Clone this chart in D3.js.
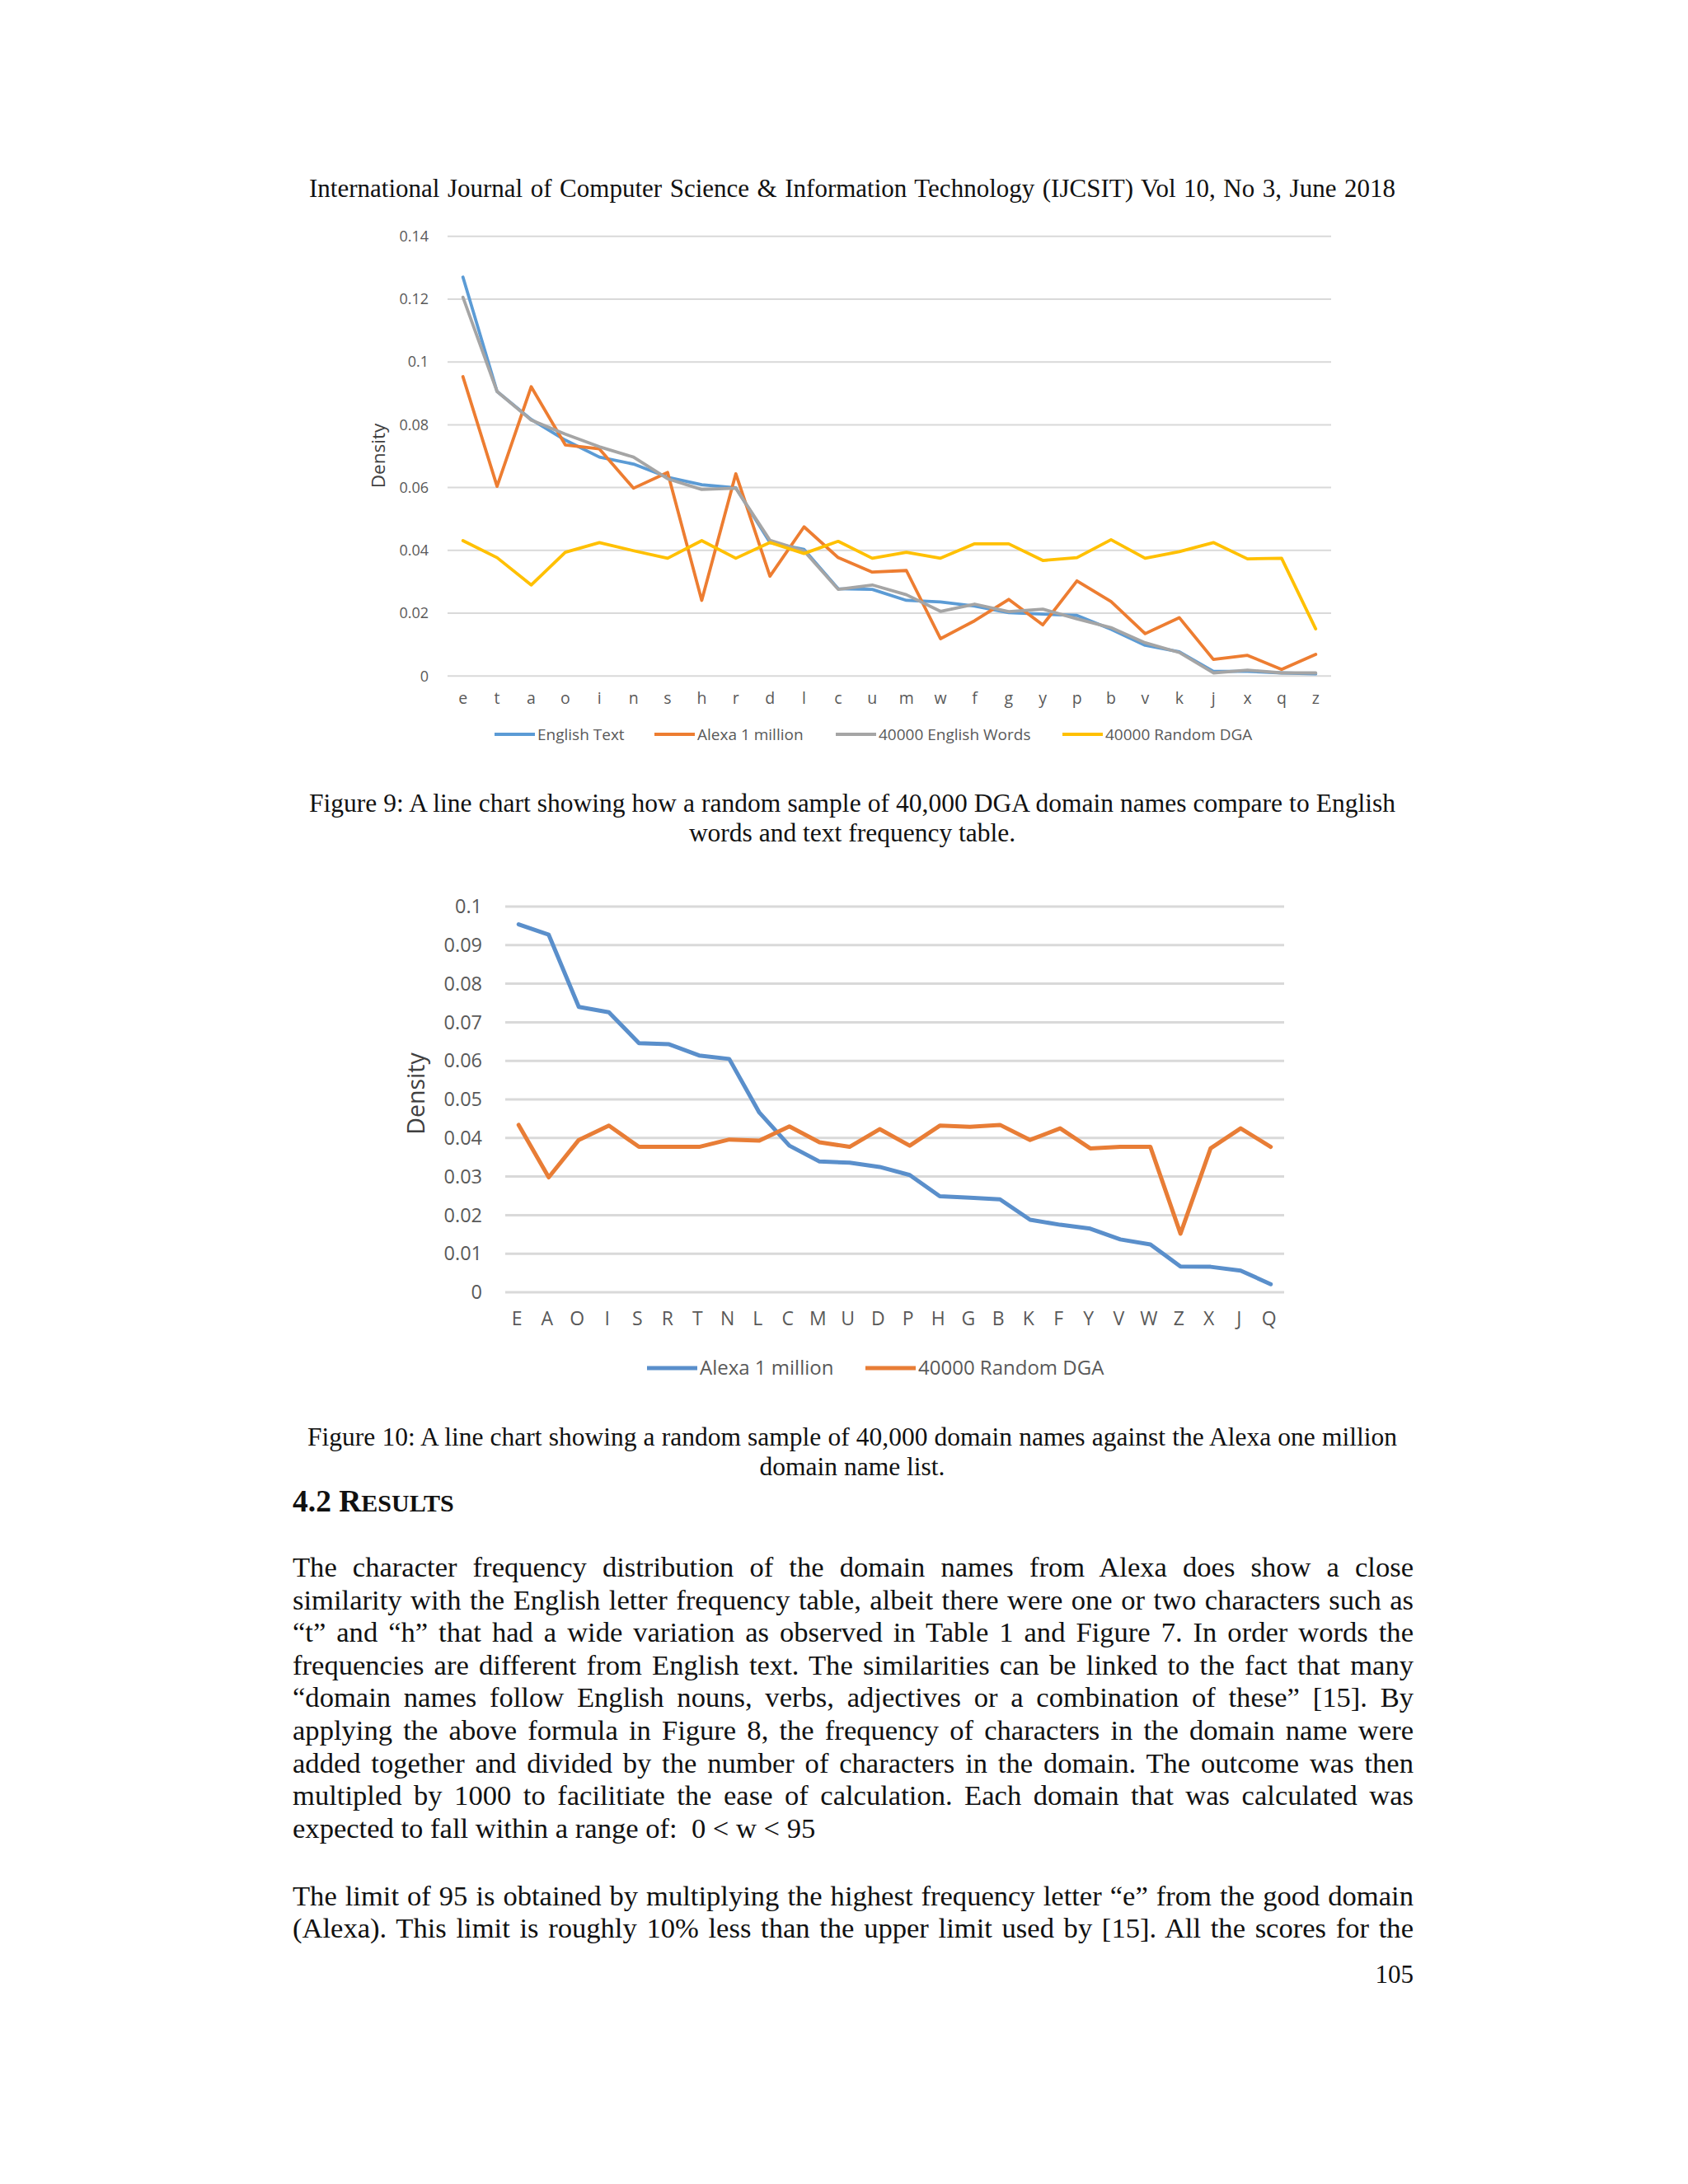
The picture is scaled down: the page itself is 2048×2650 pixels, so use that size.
<!DOCTYPE html>
<html>
<head>
<meta charset="utf-8">
<script src="https://cdn.jsdelivr.net/npm/d3@7"></script>
<style>
  html, body { margin: 0; padding: 0; background: #ffffff; }
  svg { display: block; }
  .serif { font-family: "Liberation Serif", "DejaVu Serif", serif; fill: #111; }
  .sans { font-family: "Open Sans", "Noto Sans", sans-serif; }
</style>
</head>
<body>
<svg id="page" width="2048" height="2650"></svg>
<script>
// ---------------- Figure 9 data ----------------
const letters1 = ["e","t","a","o","i","n","s","h","r","d","l","c","u","m","w","f","g","y","p","b","v","k","j","x","q","z"];
const englishText = [0.127,0.0906,0.0817,0.0751,0.0697,0.0675,0.0633,0.0609,0.0599,0.0425,0.0403,0.0278,0.0276,0.0241,0.0236,0.0223,0.0202,0.0197,0.0193,0.0149,0.0098,0.0077,0.0015,0.0015,0.0010,0.0007];
const alexa1 = [0.0953,0.0604,0.0921,0.0736,0.0723,0.0598,0.0648,0.0241,0.0644,0.0318,0.0475,0.0377,0.0331,0.0336,0.0119,0.0176,0.0244,0.0163,0.0303,0.0237,0.0135,0.0186,0.0053,0.0066,0.0021,0.0069];
const words40k = [0.1206,0.0906,0.0815,0.077,0.073,0.0697,0.0628,0.0594,0.0598,0.0432,0.0398,0.0276,0.029,0.0259,0.0206,0.0229,0.0205,0.0213,0.0182,0.0154,0.0106,0.0075,0.001,0.0019,0.001,0.001];
const dga40k = [0.0431,0.0377,0.029,0.0394,0.0425,0.0399,0.0375,0.0431,0.0375,0.0425,0.039,0.0429,0.0375,0.0394,0.0375,0.0421,0.0421,0.0368,0.0377,0.0434,0.0375,0.0396,0.0425,0.0373,0.0375,0.015];
const seriesNames1 = ["English Text","Alexa 1 million","40000 English Words","40000 Random DGA"];
const yTicks1 = [0,0.02,0.04,0.06,0.08,0.1,0.12,0.14];
const yTickLabels1 = ["0","0.02","0.04","0.06","0.08","0.1","0.12","0.14"];

// ---------------- Figure 10 data ----------------
const letters2 = ["E","A","O","I","S","R","T","N","L","C","M","U","D","P","H","G","B","K","F","Y","V","W","Z","X","J","Q"];
const alexa2 = [0.0954,0.0927,0.074,0.0726,0.0646,0.0643,0.0614,0.0605,0.0466,0.038,0.0339,0.0336,0.0325,0.0304,0.0249,0.0245,0.0241,0.0188,0.0175,0.0165,0.0137,0.0124,0.0067,0.0066,0.0056,0.0021];
const dga2 = [0.0434,0.0298,0.0395,0.0432,0.0377,0.0377,0.0377,0.0396,0.0393,0.043,0.0389,0.0377,0.0423,0.038,0.0432,0.0429,0.0434,0.0395,0.0425,0.0373,0.0377,0.0377,0.0152,0.0373,0.0425,0.0377];
const seriesNames2 = ["Alexa 1 million","40000 Random DGA"];
const yTicks2 = [0,0.01,0.02,0.03,0.04,0.05,0.06,0.07,0.08,0.09,0.1];
const yTickLabels2 = ["0","0.01","0.02","0.03","0.04","0.05","0.06","0.07","0.08","0.09","0.1"];

// ---------------- page text ----------------
const headerText = "International Journal of Computer Science & Information Technology (IJCSIT) Vol 10, No 3, June 2018";
const caption9 = ["Figure 9: A line chart showing how a random sample of 40,000 DGA domain names compare to English",
                  "words and text frequency table."];
const caption10 = ["Figure 10: A line chart showing a random sample of 40,000 domain names against the Alexa one million",
                   "domain name list."];
const para1 = [
  "The character frequency distribution of the domain names from Alexa does show a close",
  "similarity with the English letter frequency table, albeit there were one or two characters such as",
  "\u201Ct\u201D and \u201Ch\u201D that had a wide variation as observed in Table 1 and Figure 7. In order words the",
  "frequencies are different from English text. The similarities can be linked to the fact that many",
  "\u201Cdomain names follow English nouns, verbs, adjectives or a combination of these\u201D [15]. By",
  "applying the above formula in Figure 8, the frequency of characters in the domain name were",
  "added together and divided by the number of characters in the domain. The outcome was then",
  "multipled by 1000 to facilitiate the ease of calculation. Each domain that was calculated was",
  "expected to fall within a range of:  0 < w < 95"
];
const para2 = [
  "The limit of 95 is obtained by multiplying the highest frequency letter \u201Ce\u201D from the good domain",
  "(Alexa). This limit is roughly 10% less than the upper limit used by [15]. All the scores for the"
];
const pageNumber = "105";

const svg = d3.select("#page");
svg.append("rect").attr("width", 2048).attr("height", 2650).attr("fill", "#ffffff");

// ---------------- text helpers ----------------
const TL = 355, TR = 1715;
function textLine(str, x, y, size, anchor, justifyWidth) {
  const t = svg.append("text").attr("class", "serif")
    .attr("x", x).attr("y", y)
    .attr("font-size", size)
    .attr("text-anchor", anchor || "start")
    .style("white-space", "pre")
    .text(str);
  if (justifyWidth) {
    const natural = t.node().getComputedTextLength();
    const spaces = (str.match(/ /g) || []).length;
    if (spaces > 0) {
      const ws = (justifyWidth - natural) / spaces;
      t.style("word-spacing", ws + "px");
    }
  }
  return t;
}

textLine(headerText, 1034, 239, 31, "middle", 1318);
textLine(caption9[0], 1034, 985, 31.5, "middle", 1318);
textLine(caption9[1], 1034, 1021, 31.5, "middle");
textLine(caption10[0], 1034, 1754, 31.5, "middle", 1322);
textLine(caption10[1], 1034, 1790, 31.5, "middle");

// heading 4.2 RESULTS
const hd = svg.append("text").attr("class", "serif")
  .attr("x", TL).attr("y", 1834).attr("font-weight", "bold");
hd.append("tspan").attr("font-size", 37.5).text("4.2 R");
hd.append("tspan").attr("font-size", 30).text("ESULTS");

para1.forEach((s, i) => {
  const last = i === para1.length - 1;
  textLine(s, TL, 1913 + 39.6 * i, 34.6, "start", last ? null : (TR - TL));
});
para2.forEach((s, i) => {
  textLine(s, TL, 2312 + 39 * i, 34.6, "start", TR - TL);
});
textLine(pageNumber, TR, 2406, 31, "end");

// ---------------- chart drawing ----------------
function drawChart(cfg) {
  const g = svg.append("g");
  const x = d3.scalePoint().domain(cfg.categories).range(cfg.xRange).padding(0.5);
  const y = d3.scaleLinear().domain([0, cfg.yMax]).range([cfg.y0, cfg.yTop]);

  // gridlines
  g.append("g").selectAll("line").data(cfg.yTicks).join("line")
    .attr("x1", cfg.xRange[0] + 2).attr("x2", cfg.xRange[1] - 2)
    .attr("y1", d => y(d)).attr("y2", d => y(d))
    .attr("stroke", "#d9d9d9").attr("stroke-width", cfg.gridW);

  // y tick labels
  g.append("g").selectAll("text").data(cfg.yTicks).join("text")
    .attr("class", "sans")
    .attr("x", cfg.yLabelX).attr("y", d => y(d))
    .attr("dy", "0.35em")
    .attr("text-anchor", "end")
    .attr("font-size", cfg.tickSize)
    .attr("fill", "#595959")
    .text((d, i) => cfg.yTickLabels[i]);

  // x tick labels
  g.append("g").selectAll("text").data(cfg.categories).join("text")
    .attr("class", "sans")
    .attr("x", d => x(d) + cfg.xLabelShift).attr("y", cfg.xLabelY)
    .attr("dy", "0.35em")
    .attr("text-anchor", "middle")
    .attr("font-size", cfg.xLabelSize)
    .attr("fill", "#595959")
    .text(d => d);

  // axis title
  g.append("text").attr("class", "sans")
    .attr("transform", `translate(${cfg.titleX},${cfg.titleY}) rotate(-90)`)
    .attr("text-anchor", "middle").attr("dy", "0.35em")
    .attr("font-size", cfg.titleSize).attr("fill", "#404040")
    .text("Density");

  // series lines
  const line = d3.line().x((d, i) => x(cfg.categories[i])).y(d => y(d));
  cfg.series.forEach(s => {
    g.append("path").datum(s.values)
      .attr("d", line)
      .attr("fill", "none")
      .attr("stroke", s.color)
      .attr("stroke-width", cfg.lineW)
      .attr("stroke-linejoin", "round")
      .attr("stroke-linecap", "round");
  });

  // legend
  const lg = g.append("g");
  cfg.series.forEach((s, i) => {
    const lx = cfg.legendX[i];
    lg.append("line")
      .attr("x1", lx).attr("x2", lx + cfg.legendLineLen)
      .attr("y1", cfg.legendY).attr("y2", cfg.legendY)
      .attr("stroke", s.color).attr("stroke-width", cfg.lineW);
    lg.append("text").attr("class", "sans")
      .attr("x", lx + cfg.legendLineLen + 3).attr("y", cfg.legendY)
      .attr("dy", "0.35em")
      .attr("font-size", cfg.legendSize).attr("fill", "#595959")
      .text(s.name);
  });
}

drawChart({
  categories: letters1,
  xRange: [541, 1617],
  yMax: 0.14, y0: 820.3, yTop: 286.7,
  yTicks: yTicks1, yTickLabels: yTickLabels1,
  gridW: 2, lineW: 3.8,
  yLabelX: 520, tickSize: 18,
  xLabelY: 847, xLabelSize: 19.5, xLabelShift: 0,
  titleX: 459, titleY: 553, titleSize: 22.5,
  legendX: [600, 794, 1014, 1289], legendY: 891, legendLineLen: 49, legendSize: 19,
  series: [
    { name: seriesNames1[0], values: englishText, color: "#5b9bd5" },
    { name: seriesNames1[1], values: alexa1, color: "#ed7d31" },
    { name: seriesNames1[2], values: words40k, color: "#a5a5a5" },
    { name: seriesNames1[3], values: dga40k, color: "#ffc000" }
  ]
});

drawChart({
  categories: letters2,
  xRange: [611, 1560],
  yMax: 0.1, y0: 1568, yTop: 1100,
  yTicks: yTicks2, yTickLabels: yTickLabels2,
  gridW: 3, lineW: 5,
  yLabelX: 585, tickSize: 23.5,
  xLabelY: 1600, xLabelSize: 23, xLabelShift: -2,
  titleX: 505, titleY: 1327, titleSize: 28.5,
  legendX: [785, 1050], legendY: 1660, legendLineLen: 61, legendSize: 24,
  series: [
    { name: seriesNames2[0], values: alexa2, color: "#5a8fcb" },
    { name: seriesNames2[1], values: dga2, color: "#e87d36" }
  ]
});
</script>
</body>
</html>
